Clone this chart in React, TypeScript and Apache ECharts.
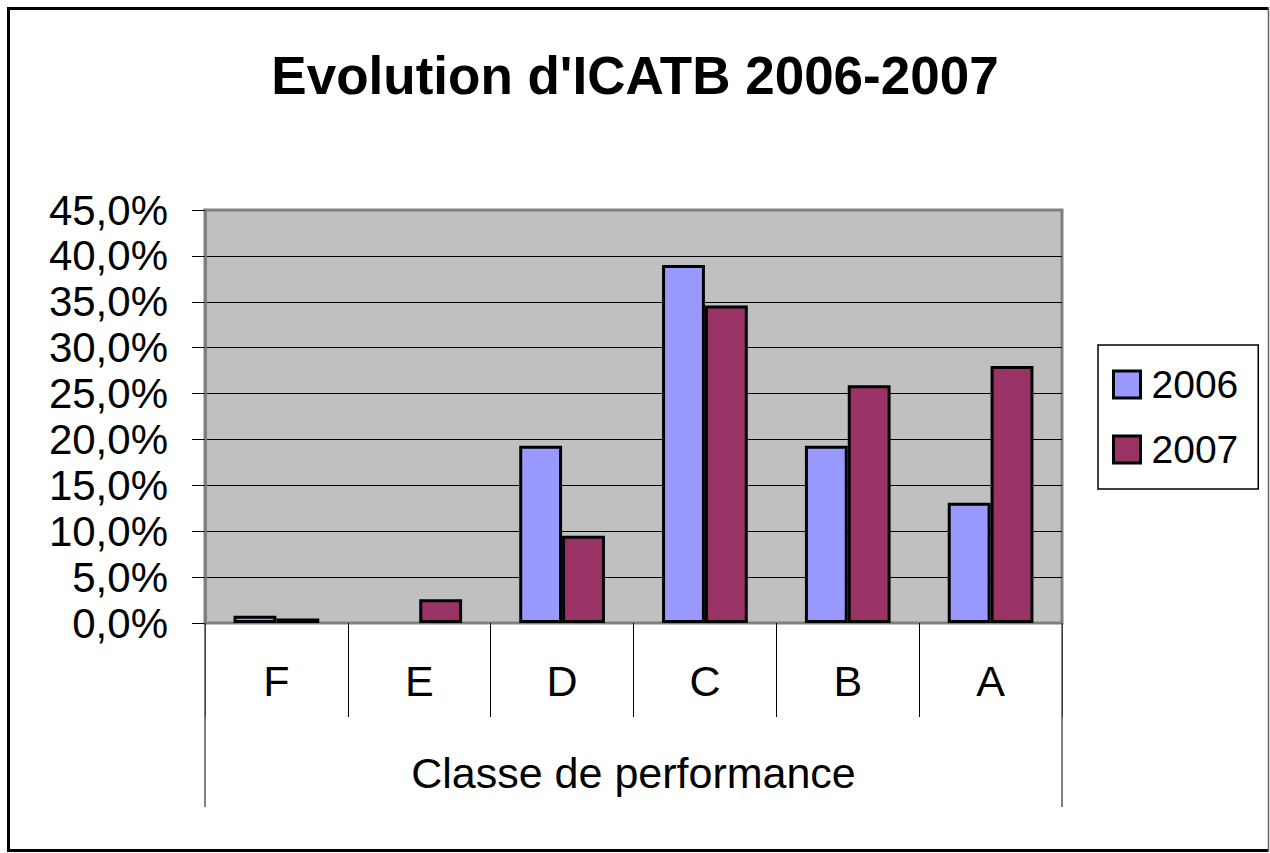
import React, { useEffect, useRef } from "react";
import * as echarts from "echarts";

const categories = ["F", "E", "D", "C", "B", "A"];
const series2006 = [0.8, null, 19.3, 39.0, 19.3, 13.1];
const series2007 = [0.5, 2.6, 9.5, 34.6, 25.9, 28.0];
const seriesNames = ["2006", "2007"];
const axisTitle = "Classe de performance";
const chartTitle = "Evolution d'ICATB 2006-2007";

const FONT = "'Liberation Sans', Arial, sans-serif";

export default function App() {
  const ref = useRef<HTMLDivElement>(null);
  useEffect(() => {
    if (!ref.current) return;
    const chart = echarts.init(ref.current, null, { renderer: "svg" });
    const splitColors = Array.from({ length: 10 }, (_, i) => (i === 9 ? "#808080" : "#000000"));
    chart.setOption({
      animation: false,
      backgroundColor: "#ffffff",
      title: {
        text: chartTitle,
        left: "center",
        top: 44,
        textStyle: { fontFamily: FONT, fontSize: 53, fontWeight: "bold", color: "#000" },
      },
      legend: {
        orient: "vertical",
        left: 1098,
        top: 345,
        data: seriesNames,
        backgroundColor: "#fff",
        borderColor: "#000",
        borderWidth: 1.5,
        padding: [20, 20, 20, 14],
        itemGap: 26,
        itemWidth: 27,
        itemHeight: 27,
        icon: "rect",
        itemStyle: { borderColor: "#000", borderWidth: 3 },
        textStyle: { fontFamily: FONT, fontSize: 39, color: "#000", padding: [0, 0, 0, 6] },
      },
      grid: {
        left: 205,
        right: 208,
        top: 210,
        bottom: 230,
        show: true,
        backgroundColor: "#C0C0C0",
        borderColor: "#808080",
        borderWidth: 3,
      },
      xAxis: [
        {
          type: "category",
          data: categories,
          position: "bottom",
          axisLine: { show: true, lineStyle: { color: "#808080", width: 2 } },
          axisTick: { show: true, inside: false, length: 94, lineStyle: { color: "#000", width: 1 } },
          axisLabel: { fontFamily: FONT, fontSize: 43, color: "#000", margin: 36 },
          splitLine: { show: false },
        },
        {
          type: "category",
          data: [axisTitle],
          position: "bottom",
          axisLine: { show: false },
          axisTick: { show: true, inside: false, length: 184, lineStyle: { color: "#555", width: 1.5 } },
          axisLabel: { fontFamily: FONT, fontSize: 43, color: "#000", margin: 128 },
          splitLine: { show: false },
        },
      ],
      yAxis: {
        type: "value",
        min: 0,
        max: 45,
        interval: 5,
        axisLine: { show: true, lineStyle: { color: "#808080", width: 3 } },
        axisTick: { show: true, inside: false, length: 13, lineStyle: { color: "#000", width: 1 } },
        axisLabel: {
          fontFamily: FONT,
          fontSize: 42,
          color: "#000",
          margin: 37,
          formatter: (v: number) => v.toFixed(1).replace(".", ",") + "%",
        },
        splitLine: { show: true, lineStyle: { color: splitColors, width: 1 } },
      },
      series: [
        {
          name: seriesNames[0],
          type: "bar",
          xAxisIndex: 0,
          data: series2006,
          barGap: "0%",
          barCategoryGap: "40%",
          itemStyle: { color: "#9999FF", borderColor: "#000", borderWidth: 3 },
        },
        {
          name: seriesNames[1],
          type: "bar",
          xAxisIndex: 0,
          data: series2007,
          barGap: "0%",
          barCategoryGap: "40%",
          itemStyle: { color: "#993366", borderColor: "#000", borderWidth: 3 },
        },
      ],
      graphic: [
        { type: "line", shape: { x1: 7, y1: 8.5, x2: 1268, y2: 8.5 }, style: { stroke: "#000", lineWidth: 3 }, silent: true },
        { type: "line", shape: { x1: 8.5, y1: 7, x2: 8.5, y2: 852 }, style: { stroke: "#000", lineWidth: 3 }, silent: true },
        { type: "line", shape: { x1: 7, y1: 850.5, x2: 1269, y2: 850.5 }, style: { stroke: "#000", lineWidth: 3 }, silent: true },
        { type: "line", shape: { x1: 1268.5, y1: 7, x2: 1268.5, y2: 852 }, style: { stroke: "#666", lineWidth: 1.5 }, silent: true },
      ],
    });
    return () => chart.dispose();
  }, []);
  return (
    <div
      ref={ref}
      style={{ position: "fixed", left: 0, top: 0, width: 1270, height: 853 }}
    />
  );
}
